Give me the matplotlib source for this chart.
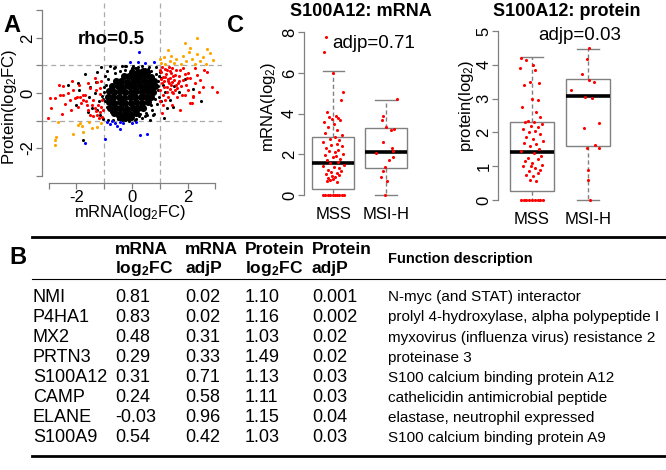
import matplotlib
matplotlib.use('Agg')
import matplotlib.pyplot as plt

plt.rcParams['font.family'] = ['Liberation Sans', 'DejaVu Sans']
plt.rcParams['mathtext.fontset'] = 'custom'
plt.rcParams['mathtext.rm'] = 'Liberation Sans'
plt.rcParams['mathtext.it'] = 'Liberation Sans:italic'
plt.rcParams['mathtext.bf'] = 'Liberation Sans:bold'

# ---------------- Panel A data (mRNA log2FC vs protein log2FC) ----------------
core_x = [0.0, 0.2, 0.4, 0.55,
          -0.3, -0.1, 0.1, 0.3, 0.5, 0.7,
          -0.58, -0.38, -0.18, 0.02, 0.22, 0.42, 0.62, 0.8,
          -0.72, -0.52, -0.32, -0.12, 0.08, 0.28, 0.48, 0.68, 0.84,
          -0.84, -0.64, -0.44, -0.24, -0.04, 0.16, 0.36, 0.56, 0.76,
          -0.88, -0.68, -0.48, -0.28, -0.08, 0.12, 0.32, 0.52, 0.7,
          -0.84, -0.64, -0.44, -0.24, -0.04, 0.16, 0.36, 0.56,
          -0.78, -0.58, -0.38, -0.18, 0.02, 0.22, 0.4,
          -0.66, -0.46, -0.26, -0.06, 0.14,
          -0.44, -0.24, -0.04]
core_y = [0.78, 0.76, 0.79, 0.75,
          0.6, 0.62, 0.59, 0.61, 0.6, 0.58,
          0.42, 0.44, 0.41, 0.43, 0.42, 0.44, 0.41, 0.43,
          0.24, 0.26, 0.23, 0.25, 0.24, 0.26, 0.23, 0.25, 0.24,
          0.06, 0.04, 0.07, 0.03, 0.05, 0.06, 0.04, 0.07, 0.05,
          -0.14, -0.16, -0.13, -0.17, -0.15, -0.14, -0.16, -0.13, -0.15,
          -0.34, -0.36, -0.33, -0.37, -0.35, -0.34, -0.36, -0.33,
          -0.54, -0.56, -0.53, -0.57, -0.55, -0.54, -0.56,
          -0.73, -0.75, -0.72, -0.76, -0.74,
          -0.88, -0.9, -0.87]

fringe_x = [-1.25, -0.98, -1.1, -0.8, -0.6, -0.35, -0.2, 0.05, 0.35, 0.6, 0.85,
            -1.3, -1.5, -1.35, -1.55, -1.2, -1.45, -1.6, -1.25, -1.15, -1.05,
            -0.85, -0.7, -0.35, -0.1, 0.15, 0.35, 0.55, 0.72, 0.76, 0.65, 0.9,
            1.05, 1.37, 1.48, 1.26, 1.1, 1.2, 1.5, 1.7, 1.9, 2.2, 2.5, 1.0,
            1.15, -2.0, -1.9, -1.75, -1.95, -1.7, -2.3, 1.05, 0.95, 0.98,
            -1.02, -1.08, -0.9, -0.5, 0.1, 0.2, -0.65, 0.45, 0.8, -0.25,
            -0.45, -0.25, 0.1, 0.45, 0.7, 0.88, 0.95, 0.92, -0.95, -1.0,
            -0.98, -0.9, -0.75, -0.55, -0.3, -0.1, 0.25, 0.5, 0.3, -0.15,
            0.7, 0.82, -0.62, -0.85, 0.58, -0.5, 0.15, 0.98, -1.05, 0.0]
fringe_y = [0.78, 0.6, 0.95, 0.98, 0.95, 0.97, 0.99, 0.98, 0.97, 0.96, 0.93,
            0.4, 0.2, 0.0, -0.14, -0.3, -0.55, -0.7, -0.62, -0.8, -0.95,
            -0.98, -0.97, -0.99, -0.98, -0.95, -0.9, -0.8, -0.6, -0.79, -0.98, -0.4,
            -0.3, -0.25, -0.5, -0.54, 0.3, 0.05, 0.25, 0.05, 0.5, 0.15, -0.3, 0.75,
            -0.9, -0.43, 0.1, -1.7, 0.35, 0.7, 0.3, 0.55, 0.1, -0.15,
            0.2, -0.1, 0.8, -0.96, -0.97, 0.95, 0.9, -0.85, -0.75, 0.98,
            0.8, 0.85, 0.9, 0.86, 0.8, 0.7, 0.45, 0.25, 0.3, 0.05,
            -0.3, -0.5, -0.7, -0.85, -0.92, -1.0, -0.85, -0.72, -0.78, -0.95,
            -0.45, -0.2, 0.72, 0.5, 0.88, -0.9, 0.92, 0.62, -0.2, 0.92]

red_x = [-3.03, -2.9, -2.53, -2.3, -2.05, -1.88, -1.77, -1.84, -1.62, -1.59,
         -1.52, -1.34, -1.23, -1.16, -1.26, -1.41, -1.08, -1.08, -2.6, -2.49,
         -2.13, -1.7, -2.24, -2.78, -2.17, -2.63, -2.49, -2.96, -1.26, -1.52,
         -1.16, -1.77, -1.99, -1.45, -1.3, -1.12, -1.2, -1.4, -1.65, -1.95,
         -2.2, -1.05, -1.1, -1.35, -1.9, -2.4, -1.15, -1.3, -1.6,
         1.08, 1.26, 1.44, 1.19, 1.37, 1.55, 1.73, 1.66, 1.84, 2.02,
         2.27, 2.45, 2.7, 2.88, 3.06, 2.02, 2.2, 1.8, 1.48, 1.26,
         1.08, 1.01, 1.62, 1.3, 1.12, 1.99, 2.27, 2.16, 1.73, 1.12,
         1.44, 1.62, 1.91, 2.09, 2.2, 1.08, 1.44, 1.05, 1.15, 1.22,
         1.33, 1.4, 1.5, 1.58, 1.68, 1.78, 1.9, 1.15, 1.25, 1.35,
         1.42, 1.55, 1.7, 1.05, 1.18, 1.32, 1.48, 1.6, 1.95, 2.1,
         2.35, 2.55, 2.4, 1.85, 1.02, 1.1, 1.2, 1.3, 1.45, 1.28,
         1.0, 1.38, 2.6]
red_y = [-0.9, -0.55, -0.78, 0.0, -0.18, -0.14, -0.07, -0.36, -0.43, -0.61,
         -0.79, -0.54, -0.43, -0.69, -0.79, -0.25, -0.25, -0.87, -0.07, -0.07,
         0.11, -0.07, -0.25, -0.18, 0.43, 0.29, 0.25, -0.18, 0.4, 0.18,
         0.18, -0.25, -0.14, -0.42, -0.65, -0.5, -0.9, -0.85, -0.3, -0.5,
         -0.6, -0.6, 0.45, 0.55, 0.3, -0.4, -0.05, 0.1, 0.35,
         0.94, 0.83, 0.9, 0.58, 0.54, 0.65, 0.83, 0.36, 0.47, 0.72,
         0.9, 0.47, 0.76, 0.22, 0.04, 0.11, -0.14, -0.07, 0.0, 0.22,
         0.36, 0.11, 0.18, -0.14, 0.58, 0.54, 0.36, -0.36, -0.61, -0.07,
         0.02, -0.14, -0.07, -0.36, -0.12, -0.72, -0.43, 0.75, 0.45, 0.7,
         0.35, 0.72, 0.48, 0.85, 0.6, 0.25, 0.68, 0.2, 0.05, 0.15,
         0.28, 0.1, 0.42, 0.5, 0.88, 0.95, 0.62, 0.3, 0.3, 0.55,
         0.65, 0.2, 0.05, 0.92, -0.3, -0.45, -0.25, 0.5, 0.4, 0.42,
         0.85, 0.8, 0.85]

orange_x = [1.05, 1.2, 1.35, 1.0, 1.15, 1.5, 1.6, 1.75, 1.85, 1.95, 2.05, 2.15,
            2.25, 2.35, 2.35, 2.45, 2.55, 2.65, 2.7, 2.9, 1.9, 2.1, 1.4, 1.3, 2.8,
            -2.78, -2.78, -2.75, -2.67, -2.13, -1.88, -1.77, -1.44, -1.26, -1.95,
            -1.8, -1.1, -1.55]
orange_y = [1.08, 1.05, 1.15, 1.25, 1.3, 1.1, 1.25, 1.05, 1.35, 1.15, 1.5, 1.25,
            1.05, 1.4, 2.0, 1.15, 1.3, 1.05, 1.6, 1.2, 1.8, 1.65, 1.35, 1.55, 1.45,
            -1.7, -1.88, -1.6, -1.05, -1.5, -1.08, -1.4, -1.26, -1.22, -1.15,
            -1.19, -1.1, -1.05]

blue_x = [0.25, -0.07, 0.22, 0.47, 0.8, -0.72, -0.6, -0.45, -0.32, -0.9,
          -0.97, -0.43, 0.0, 0.29, 0.54, -1.7, -0.8, 0.15, -0.55]
blue_y = [1.48, 1.12, 1.12, 1.08, 1.12, -1.02, -1.08, -1.05, -1.1, -1.05,
          -1.66, -1.3, -1.08, -1.52, -1.48, -1.8, -1.12, -1.05, -1.2]

axA_ticks = [-3, -2, -1, 0, 1, 2, 3]
axA_labels = ['', '-2', '', '0', '', '2', '']

# ---------------- Panel C data (S100A12 boxplots) ----------------
groups = ['MSS', 'MSI-H']
mrna_stats = [dict(whislo=0.0, q1=0.28, med=1.57, q3=2.87, whishi=6.1),
              dict(whislo=0.0, q1=1.31, med=2.1, q3=3.28, whishi=4.67)]
prot_stats = [dict(whislo=0.0, q1=0.27, med=1.42, q3=2.3, whishi=4.22),
              dict(whislo=0.0, q1=1.6, med=3.07, q3=3.59, whishi=4.48)]

mss_mrna = [7.75, 7.05, 6.0, 5.05, 4.65, 4.1, 3.9, 3.85, 3.8, 3.75, 3.7, 3.6,
            3.5, 3.35, 3.2, 3.05, 2.95, 2.85, 2.75, 2.7, 2.6, 2.5, 2.45, 2.4,
            2.3, 2.2, 2.15, 2.1, 2.0, 1.95, 1.9, 1.85, 1.75, 1.7, 1.6, 1.55,
            1.5, 1.45, 1.4, 1.35, 1.25, 1.2, 1.15, 1.1, 1.05, 1.0, 0.95, 0.9,
            0.85, 0.8, 0.75, 0.7, 0.65, 0, 0, 0, 0, 0, 0, 0, 0, 0, 0]
mss_mrna_jit = [-0.14, -0.17, 0.0, 0.19, 0.15, -0.12, 0.05, -0.08, 0.1, -0.02,
                0.13, -0.18, 0.02, -0.1, 0.08, -0.15, 0.17, 0.04, -0.06, 0.12,
                -0.2, 0.07, -0.03, 0.16, -0.13, 0.1, -0.07, 0.03, 0.18, -0.16,
                0.06, -0.01, 0.14, -0.11, 0.09, -0.05, 0.2, -0.19, 0.01, 0.11,
                -0.09, 0.15, -0.04, 0.07, -0.14, 0.12, -0.02, 0.04, -0.1, 0.0,
                -0.06, -0.12, 0.08, -0.2, -0.15, -0.1, -0.05, 0.0, 0.04, 0.08,
                0.12, 0.16, 0.2]
msih_mrna = [4.7, 3.9, 3.7, 3.35, 3.25, 3.2, 2.6, 2.3, 2.15, 2.05, 1.85, 1.7,
             1.4, 1.2, 0.9, 0.7, 0.0]
msih_mrna_jit = [0.2, -0.05, -0.08, 0.0, 0.15, 0.1, -0.05, 0.12, 0.14, -0.18,
                 0.13, 0.05, -0.02, -0.06, -0.1, 0.02, -0.01]

mss_prot = [4.2, 4.15, 4.0, 3.9, 3.85, 3.5, 3.45, 3.4, 3.0, 2.95, 2.75, 2.6,
            2.45, 2.35, 2.32, 2.3, 2.25, 2.2, 2.15, 2.1, 2.05, 2.0, 1.95, 1.85,
            1.8, 1.75, 1.7, 1.65, 1.6, 1.5, 1.45, 1.4, 1.3, 1.25, 1.2, 1.15,
            1.1, 1.05, 1.02, 1.0, 0.95, 0.9, 0.85, 0.8, 0.75, 0.7, 0.6, 0.55,
            0, 0, 0, 0, 0, 0, 0, 0, 0]
mss_prot_jit = [-0.2, -0.1, 0.02, -0.22, 0.06, -0.04, 0.12, -0.15, 0.0, 0.1,
                -0.18, 0.08, 0.15, -0.08, 0.04, -0.12, 0.18, -0.02, 0.1, -0.16,
                0.06, -0.06, 0.14, -0.1, 0.02, 0.2, -0.14, 0.08, -0.04, 0.12,
                -0.2, 0.04, 0.16, -0.08, 0.1, -0.12, 0.0, 0.18, -0.02, -0.16,
                0.06, 0.14, -0.06, 0.1, -0.1, 0.02, -0.04, 0.08,
                -0.2, -0.15, -0.1, -0.05, 0.0, 0.05, 0.1, 0.15, 0.2]
msih_prot = [4.49, 4.16, 3.72, 3.55, 3.5, 3.25, 3.04, 3.03, 2.27, 2.12, 1.63,
             1.55, 1.53, 0.89, 0.59, 0.0]
msih_prot_jit = [0.02, -0.02, -0.1, 0.02, 0.1, -0.3, -0.05, 0.08, 0.2, -0.08,
                 0.12, -0.02, 0.2, 0.0, 0.0, 0.04]

# ---------------- Panel B table data ----------------
genes = ['NMI', 'P4HA1', 'MX2', 'PRTN3', 'S100A12', 'CAMP', 'ELANE', 'S100A9']
mrna_log2fc = ['0.81', '0.83', '0.48', '0.29', '0.31', '0.24', '-0.03', '0.54']
mrna_adjp = ['0.02', '0.02', '0.31', '0.33', '0.71', '0.58', '0.96', '0.42']
prot_log2fc = ['1.10', '1.16', '1.03', '1.49', '1.13', '1.11', '1.15', '1.03']
prot_adjp = ['0.001', '0.002', '0.02', '0.02', '0.03', '0.03', '0.04', '0.03']
descriptions = ['N-myc (and STAT) interactor',
                'prolyl 4-hydroxylase, alpha polypeptide I',
                'myxovirus (influenza virus) resistance 2',
                'proteinase 3',
                'S100 calcium binding protein A12',
                'cathelicidin antimicrobial peptide',
                'elastase, neutrophil expressed',
                'S100 calcium binding protein A9']
headers_1 = ['mRNA', 'mRNA', 'Protein', 'Protein']
headers_2 = [r'log$_\mathbf{2}$FC', 'adjP', r'log$_\mathbf{2}$FC', 'adjP']

# ---------------- Figure ----------------
W, H = 666, 470
fig = plt.figure(figsize=(6.66, 4.70), dpi=100)
fig.patch.set_facecolor('white')


def fx(px):
    return px / W


def fy(py):
    return 1 - py / H


def rect(l, t, r, b):
    return [fx(l), fy(b), (r - l) / W, (b - t) / H]


AXC = '#808080'


def r_style(ax):
    for s in ['top', 'right']:
        ax.spines[s].set_visible(False)
    for s in ['left', 'bottom']:
        ax.spines[s].set_color(AXC)
        ax.spines[s].set_linewidth(0.9)
    ax.tick_params(colors=AXC, labelcolor='black', length=4, width=0.9,
                   labelsize=12, pad=1.0)


# Panel A
axA = fig.add_axes(rect(42, 3, 222, 183))
r_style(axA)
axA.set_xlim(-3.24, 3.24)
axA.set_ylim(-3.27, 3.27)
axA.spines['left'].set_bounds(-3, 3)
axA.spines['bottom'].set_bounds(-3, 3)
axA.set_xticks(axA_ticks)
axA.set_xticklabels(axA_labels)
axA.set_yticks(axA_ticks)
axA.set_yticklabels(axA_labels, rotation=90, va='center')
dash = (0, (4, 3))
for v in (-1, 1):
    axA.axvline(v, color='#aaaaaa', lw=0.9, ls=dash, zorder=0)
    axA.axhline(v, color='#aaaaaa', lw=0.9, ls=dash, zorder=0)
axA.scatter(core_x, core_y, s=26, c='black', linewidths=0, zorder=2)
axA.scatter(fringe_x, fringe_y, s=5, c='black', linewidths=0, zorder=2)
axA.scatter(red_x, red_y, s=5, c='#ff0000', linewidths=0, zorder=3)
axA.scatter(orange_x, orange_y, s=5, c='#ffa500', linewidths=0, zorder=3)
axA.scatter(blue_x, blue_y, s=5, c='#0000ff', linewidths=0, zorder=3)

fig.text(fx(10), fy(107), r'Protein(log$_2$FC)', rotation=90, ha='center',
         va='center', fontsize=12)
fig.text(fx(130), fy(213), r'mRNA(log$_2$FC)', ha='center', va='center',
         fontsize=12)
fig.text(fx(111), fy(39), 'rho=0.5', ha='center', va='center', fontsize=13.5,
         fontweight='bold')
fig.text(fx(12), fy(26), 'A', ha='center', va='center', fontsize=17,
         fontweight='bold')


# Panel C boxplots
def boxpanel(r, xlim, ylim, yticks, stats, pts, jits):
    ax = fig.add_axes(r)
    r_style(ax)
    ax.spines['bottom'].set_visible(False)
    ax.bxp(stats, positions=[1, 2], widths=0.8, showfliers=False,
           patch_artist=True, manage_ticks=False,
           boxprops=dict(facecolor='white', edgecolor=AXC, linewidth=1.0),
           medianprops=dict(color='black', linewidth=2.6),
           whiskerprops=dict(color=AXC, linewidth=1.0, linestyle=(0, (3, 2))),
           capprops=dict(color=AXC, linewidth=1.0))
    for i, (vals, jit) in enumerate(zip(pts, jits)):
        ax.scatter([i + 1 + j for j in jit], vals, s=5, c='#ff0000',
                   linewidths=0, zorder=5)
    ax.set_xlim(*xlim)
    ax.set_ylim(*ylim)
    ax.spines['left'].set_bounds(yticks[0], yticks[-1])
    ax.set_yticks(yticks)
    ax.set_yticklabels([str(t) for t in yticks], rotation=90, va='center')
    ax.set_xticks([1, 2])
    ax.set_xticklabels(groups)
    ax.tick_params(axis='x', length=0, pad=4)
    return ax


axC1 = boxpanel(rect(304, 28.3, 415, 201.1), (0.45, 2.55), (-0.3, 8.2),
                [0, 2, 4, 6, 8], mrna_stats, [mss_mrna, msih_mrna],
                [mss_mrna_jit, msih_mrna_jit])
axC2 = boxpanel(rect(498.4, 27.6, 621.6, 206.1), (0.4, 2.6), (-0.18, 5.1),
                [0, 1, 2, 3, 4, 5], prot_stats, [mss_prot, msih_prot],
                [mss_prot_jit, msih_prot_jit])

fig.text(fx(361), fy(11), 'S100A12: mRNA', ha='center', va='center',
         fontsize=13, fontweight='bold')
fig.text(fx(567), fy(11), 'S100A12: protein', ha='center', va='center',
         fontsize=13, fontweight='bold')
fig.text(fx(373.5), fy(43), 'adjp=0.71', ha='center', va='center', fontsize=13.5)
fig.text(fx(579.5), fy(35), 'adjp=0.03', ha='center', va='center', fontsize=13.5)
fig.text(fx(268), fy(107), r'mRNA(log$_2$)', rotation=90, ha='center',
         va='center', fontsize=12)
fig.text(fx(466), fy(106), r'protein(log$_2$)', rotation=90, ha='center',
         va='center', fontsize=12)
fig.text(fx(236), fy(25), 'C', ha='center', va='center', fontsize=17,
         fontweight='bold')

# Panel B table
fig.text(fx(18), fy(258), 'B', ha='center', va='center', fontsize=17,
         fontweight='bold')
fig.add_artist(plt.Line2D([fx(32), fx(666)], [fy(237), fy(237)], lw=2.0,
                          color='black'))
fig.add_artist(plt.Line2D([fx(32), fx(666)], [fy(279), fy(279)], lw=0.8,
                          color='black'))
fig.add_artist(plt.Line2D([fx(32), fx(666)], [fy(456), fy(456)], lw=2.0,
                          color='black'))
col_x = [115, 185, 245, 312]
for cx, h1, h2 in zip(col_x, headers_1, headers_2):
    fig.text(fx(cx), fy(249), h1, ha='left', va='center', fontsize=12.5,
             fontweight='bold')
    fig.text(fx(cx), fy(268), h2, ha='left', va='center', fontsize=12.5,
             fontweight='bold')
fig.text(fx(388), fy(259), 'Function description', ha='left', va='center',
         fontsize=10.5, fontweight='bold')
row_y = [297, 317, 338, 358, 378, 398, 418, 438]
for i, ry in enumerate(row_y):
    fig.text(fx(33), fy(ry), genes[i], ha='left', va='center', fontsize=13)
    for cx, col in zip(col_x, [mrna_log2fc, mrna_adjp, prot_log2fc, prot_adjp]):
        fig.text(fx(cx), fy(ry), col[i], ha='left', va='center', fontsize=13)
    fig.text(fx(388), fy(ry), descriptions[i], ha='left', va='center',
             fontsize=11)

fig.savefig('out.png', dpi=100, facecolor='white')
